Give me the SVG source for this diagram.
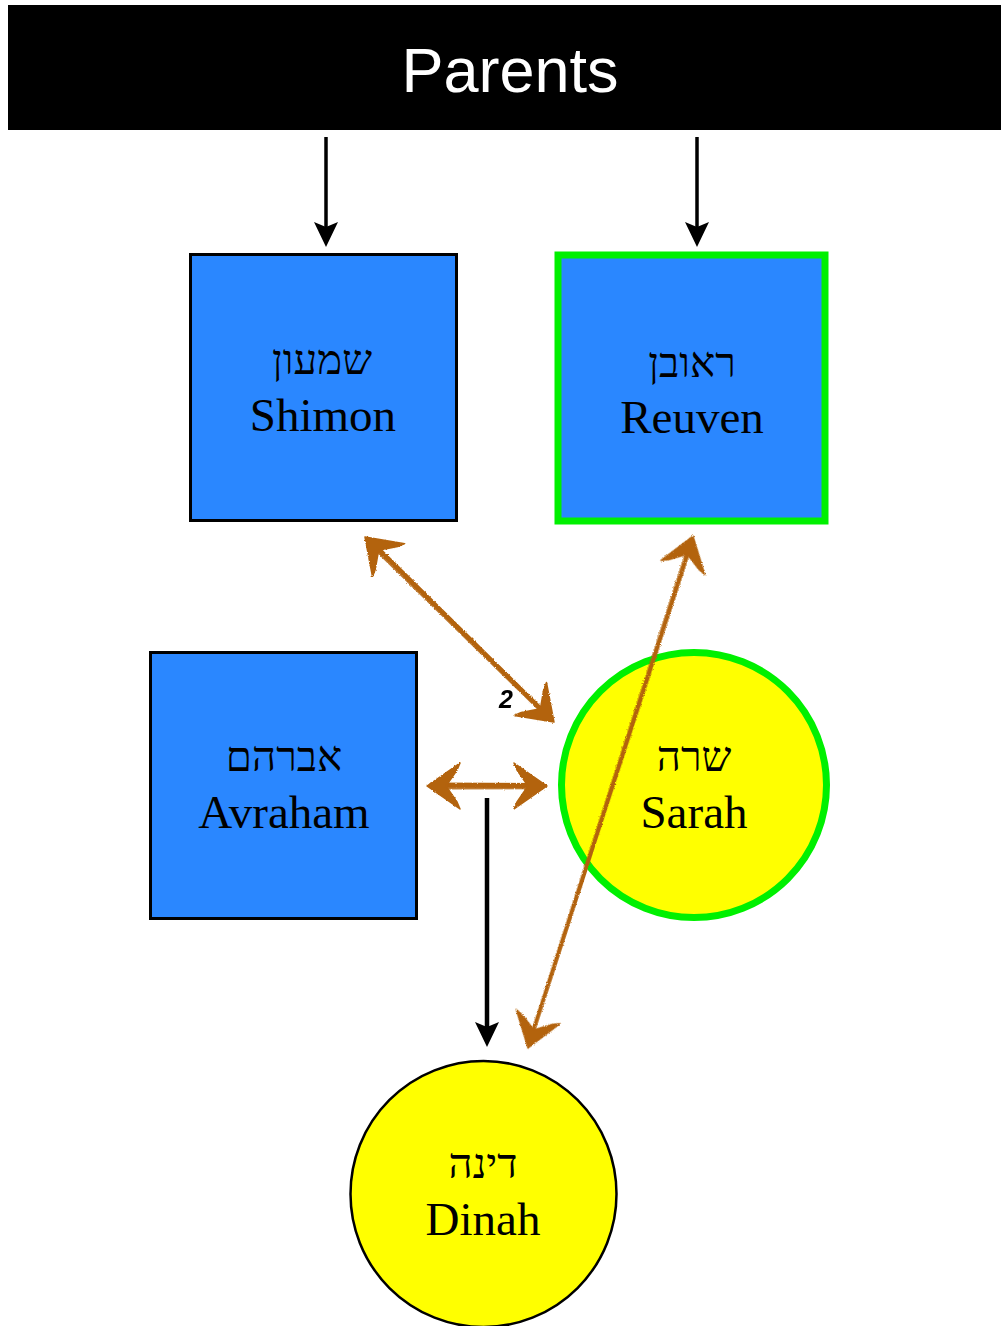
<svg xmlns="http://www.w3.org/2000/svg" width="1001" height="1326" viewBox="0 0 1001 1326">
  <style>
    .box { fill: #2a87ff; stroke: #000; stroke-width: 3; }
    .boxSel { fill: #2a87ff; stroke: #00f000; stroke-width: 7; }
    .female { fill: #ffff00; stroke: #000; stroke-width: 2.5; }
    .femaleSel { fill: #ffff00; stroke: #00f000; stroke-width: 7; }
    .name { font-family: "Liberation Serif", "DejaVu Serif", serif; font-size: 47px; fill: #000; text-anchor: middle; }
    .heb { font-family: "Liberation Serif", "DejaVu Serif", serif; font-size: 42px; fill: #000; text-anchor: middle; }
    .title { font-family: "Liberation Sans", Arial, sans-serif; font-size: 63px; fill: #fff; text-anchor: middle; }
    .count { font-family: "Liberation Sans", Arial, sans-serif; font-size: 25px; font-weight: bold; font-style: italic; fill: #000; text-anchor: middle; }
    .link { stroke: #000; fill: none; marker-end: url(#tip); }
    .rel { fill: none; stroke: #b3630c; stroke-linecap: round; }
    .relHead { fill: #b3630c; stroke: #b3630c; stroke-width: 1.5; stroke-linejoin: round; }
  </style>
  <defs>
    <marker id="tip" markerUnits="userSpaceOnUse" viewBox="-6 -13 27 26" markerWidth="27" markerHeight="26" refX="0" refY="0" orient="auto">
      <path d="M-5,-12 L20,0 L-5,12 L0,0 Z" fill="#000"/>
    </marker>
    <!-- hand-drawn arrowhead, pointing to -x with its tip at the origin -->
    <path id="relTip" class="relHead" d="M0,0 L33,-23 L30,-16 L19,0 L30,16 L33,23 Z"/>
    <filter id="rough" x="-10%" y="-10%" width="120%" height="120%">
      <feTurbulence type="fractalNoise" baseFrequency="0.9" numOctaves="2" seed="4" result="noise"/>
      <feDisplacementMap in="SourceGraphic" in2="noise" scale="2.5" xChannelSelector="R" yChannelSelector="G"/>
    </filter>
  </defs>

  <!-- header -->
  <g id="parents">
    <rect x="8" y="5" width="1000" height="125" fill="#000"/>
    <text class="title" x="510" y="92">Parents</text>
  </g>

  <!-- nodes -->
  <g id="shimon">
    <rect class="box" x="190.5" y="254.5" width="266" height="266"/>
    <text class="heb" x="322" y="374">שמעון</text>
    <text class="name" x="323" y="431">Shimon</text>
  </g>
  <g id="reuven">
    <rect class="boxSel" x="558" y="255" width="267" height="266"/>
    <text class="heb" x="692" y="377">ראובן</text>
    <text class="name" x="692" y="433">Reuven</text>
  </g>
  <g id="avraham">
    <rect class="box" x="150.5" y="652.5" width="266" height="266"/>
    <text class="heb" x="284" y="771">אברהם</text>
    <text class="name" x="284" y="828">Avraham</text>
  </g>
  <g id="sarah">
    <circle class="femaleSel" cx="694" cy="785" r="132.5"/>
    <text class="heb" x="694" y="771">שרה</text>
    <text class="name" x="694" y="828">Sarah</text>
  </g>
  <g id="dinah">
    <circle class="female" cx="483.5" cy="1194" r="133"/>
    <text class="heb" x="483" y="1178">דינה</text>
    <text class="name" x="483" y="1235">Dinah</text>
  </g>

  <!-- connectors -->
  <g id="connectors">
    <line class="link" x1="326" y1="137" x2="326" y2="227" stroke-width="3.5"/>
    <line class="link" x1="697" y1="137" x2="697" y2="227" stroke-width="3.5"/>
    <line class="link" x1="487" y1="798" x2="487" y2="1027" stroke-width="4.5"/>

    <g filter="url(#rough)">
      <!-- Shimon <-> Sarah -->
      <g transform="translate(365,537) rotate(44.4)">
        <line class="rel" x1="4" y1="-1.8" x2="260" y2="-1" stroke-width="2.6"/>
        <line class="rel" x1="6" y1="0" x2="258" y2="0.6" stroke-width="3"/>
        <line class="rel" x1="8" y1="1.9" x2="256" y2="1.6" stroke-width="2.2" opacity="0.85"/>
        <use href="#relTip"/>
        <use href="#relTip" transform="translate(264.5,0) scale(-1,1)"/>
      </g>
      <!-- Avraham <-> Sarah -->
      <g transform="translate(427,786)">
        <line class="rel" x1="4" y1="-2.2" x2="116" y2="-1.6" stroke-width="2.8"/>
        <line class="rel" x1="6" y1="0" x2="114" y2="0.4" stroke-width="3.2"/>
        <line class="rel" x1="8" y1="2.2" x2="112" y2="2" stroke-width="2.4" opacity="0.85"/>
        <use href="#relTip"/>
        <use href="#relTip" transform="translate(120,0) scale(-1,1)"/>
      </g>
      <!-- Reuven <-> Dinah -->
      <g transform="translate(693,536) rotate(107.86)">
        <line class="rel" x1="4" y1="-1.3" x2="534" y2="-0.6" stroke-width="2.2"/>
        <line class="rel" x1="6" y1="0.3" x2="532" y2="0.8" stroke-width="2.4"/>
        <line class="rel" x1="8" y1="1.7" x2="530" y2="1.3" stroke-width="1.7" opacity="0.85"/>
        <use href="#relTip"/>
        <use href="#relTip" transform="translate(538,0) scale(-1,1)"/>
      </g>
    </g>
    <text class="count" x="506" y="708">2</text>
  </g>
</svg>
